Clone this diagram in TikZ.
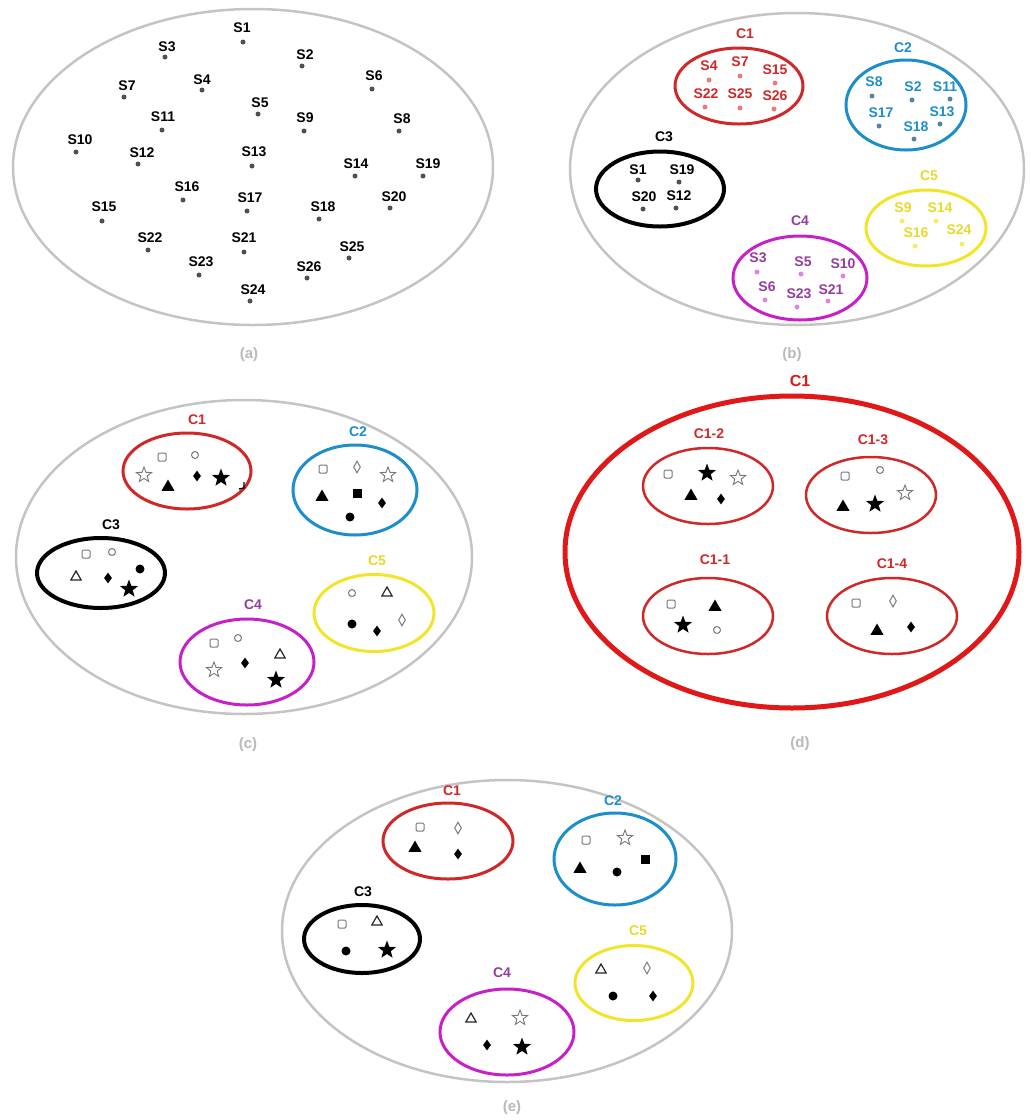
\documentclass[tikz,border=0pt]{standalone}
\usepackage{fontspec}
\setmainfont{Liberation Sans}
\usetikzlibrary{shapes.geometric}
\definecolor{cgray}{RGB}{196,196,196}
\definecolor{cred}{RGB}{208,40,40}
\definecolor{cdred}{RGB}{224,24,24}
\definecolor{cblue}{RGB}{28,142,202}
\definecolor{cmag}{RGB}{200,32,200}
\definecolor{cmagt}{RGB}{150,60,160}
\definecolor{cyel}{RGB}{242,228,40}
\definecolor{cyelt}{RGB}{232,216,40}
\definecolor{cdot}{RGB}{80,80,80}
\definecolor{ccap}{RGB}{185,185,185}
\definecolor{csym}{RGB}{120,120,120}
\begin{document}
\begin{tikzpicture}[x=1pt,y=-1pt,
  lab/.style={font=\fontsize{14}{16}\selectfont\bfseries, inner sep=0, anchor=center},
  biglab/.style={font=\fontsize{16}{18}\selectfont\bfseries, inner sep=0, anchor=center},
  capt/.style={font=\fontsize{15}{17}\selectfont\bfseries, text=ccap, inner sep=0},
  dot/.style={circle, fill=cdot, inner sep=0, minimum size=5pt},
  outer/.style={ellipse, draw=cgray, line width=2.5pt, inner sep=0},
  clus/.style={ellipse, line width=3pt, inner sep=0},
  osq/.style={rectangle, draw=csym, rounded corners=1.2pt, line width=1pt, inner sep=0, minimum size=8pt},
  fsq/.style={rectangle, fill=black, inner sep=0, minimum size=9pt},
  ocirc/.style={circle, draw=csym, line width=1pt, inner sep=0, minimum size=7pt},
  fcirc/.style={circle, fill=black, inner sep=0, minimum size=9pt},
  ostar/.style={star, star points=5, star point ratio=2.4, draw=csym, line width=0.9pt, inner sep=0, minimum size=16pt},
  fstar/.style={star, star points=5, star point ratio=2.4, fill=black, inner sep=0, minimum size=19pt},
  ftri/.style={regular polygon, regular polygon sides=3, fill=black, inner sep=0, minimum size=15pt},
  otri/.style={regular polygon, regular polygon sides=3, draw=black!85, line width=1.2pt, inner sep=0, minimum size=12pt},
  fdia/.style={diamond, fill=black, inner sep=0, minimum width=8pt, minimum height=11pt},
  odia/.style={diamond, draw=csym, line width=1pt, inner sep=0, minimum width=7pt, minimum height=12pt}
]
\useasboundingbox (0,0) rectangle (1031,1120);

% ---------------- (a)
\node[outer, minimum width=480pt, minimum height=316pt] (A) at (253,167) {};
\foreach \n/\lx/\ly/\dx/\dy in {1/242/28/243/42, 2/305/55/302/66, 3/167/47/165/57, 4/202/80/202/90,
  5/260/103/258/114, 6/374/76/372/89, 7/127/86/124/97, 8/402/119/399/131, 9/305/118/304/131,
  10/80/140/76/152, 11/163/117/162/130, 12/142/153/138/164, 13/254/152/252/166, 14/356/164/355/176,
  15/104/207/102/221, 16/187/187/183/200, 17/250/198/247/211, 18/323/207/319/219, 19/428/164/423/176,
  20/394/197/390/208, 21/244/238/244/252, 22/150/238/148/250, 23/201/262/199/275, 24/253/290/250/301,
  25/352/247/349/258, 26/309/267/307/278}
{ \node[lab] (aL\n) at (\lx,\ly) {S\n}; \node[dot] (aD\n) at (\dx,\dy) {}; }
\node[capt] (capa) at (249,355) {(a)};

% ---------------- (b)
\node[outer, minimum width=454pt, minimum height=312pt] (B) at (797,169) {};
\node[clus, draw=cred, minimum width=128pt, minimum height=76pt] (bC1) at (739,86) {};
\node[lab, text=cred] (bC1l) at (745,34) {C1};
\foreach \n/\lx/\ly/\dx/\dy in {4/709/66/709/80, 7/740/62/740/76, 15/775/70/775/83, 22/706/94/705/107, 25/740/94/740/108, 26/775/96/774/109}
{ \node[lab, text=cred] (bL\n) at (\lx,\ly) {S\n}; \node[dot, fill=cred!60] (bD\n) at (\dx,\dy) {}; }
\node[clus, draw=cblue, minimum width=120pt, minimum height=90pt] (bC2) at (906,105) {};
\node[lab, text=cblue] (bC2l) at (903,48) {C2};
\foreach \n/\lx/\ly/\dx/\dy in {8/874/82/872/96, 2/913/87/912/100, 11/945/87/950/99, 17/881/113/879/126, 13/942/112/940/124, 18/916/127/914/139}
{ \node[lab, text=cblue] (bL\n) at (\lx,\ly) {S\n}; \node[dot, fill=cblue!40!gray] (bD\n) at (\dx,\dy) {}; }
\node[clus, draw=black, line width=4pt, minimum width=128pt, minimum height=75pt] (bC3) at (660,189) {};
\node[lab] (bC3l) at (664,137) {C3};
\foreach \n/\lx/\ly/\dx/\dy in {1/638/170/638/180, 19/682/170/679/182, 20/644/197/643/209, 12/679/196/676/208}
{ \node[lab] (bL\n) at (\lx,\ly) {S\n}; \node[dot] (bD\n) at (\dx,\dy) {}; }
\node[clus, draw=cmag, minimum width=134pt, minimum height=84pt] (bC4) at (800,278) {};
\node[lab, text=cmagt] (bC4l) at (800,221) {C4};
\foreach \n/\lx/\ly/\dx/\dy in {3/758/258/757/272, 5/803/262/801/274, 10/843/264/843/276, 6/767/287/765/300, 23/799/294/797/307, 21/831/290/828/301}
{ \node[lab, text=cmagt] (bL\n) at (\lx,\ly) {S\n}; \node[dot, fill=cmag!55] (bD\n) at (\dx,\dy) {}; }
\node[clus, draw=cyel, minimum width=120pt, minimum height=76pt] (bC5) at (926,228) {};
\node[lab, text=cyelt] (bC5l) at (929,176) {C5};
\foreach \n/\lx/\ly/\dx/\dy in {9/903/208/902/221, 14/940/208/936/221, 16/916/233/915/246, 24/959/230/962/244}
{ \node[lab, text=cyelt] (bL\n) at (\lx,\ly) {S\n}; \node[dot, fill=cyel!70] (bD\n) at (\dx,\dy) {}; }
\node[capt] (capb) at (792,355) {(b)};

% ---------------- (c)
\node[outer, minimum width=456pt, minimum height=314pt] (C) at (244,557) {};
\node[clus, draw=cred, minimum width=128pt, minimum height=76pt] (cC1) at (187,471) {};
\node[lab, text=cred] (cC1l) at (197,420) {C1};
\node[ostar] (c1a) at (144,475) {};
\node[osq] (c1b) at (162,457) {};
\node[ocirc] (c1c) at (195,455) {};
\node[ftri] (c1d) at (168,487) {};
\node[fdia] (c1e) at (197,476) {};
\node[fstar] (c1f) at (221,478) {};
\draw[line width=1.3pt] (244,482) -- (244,488) -- (239,489);
\node[clus, draw=black, line width=4pt, minimum width=128pt, minimum height=70pt] (cC3) at (101,573) {};
\node[lab] (cC3l) at (111,525) {C3};
\node[osq] (c3a) at (86,554) {};
\node[ocirc] (c3b) at (112,552) {};
\node[otri] (c3c) at (76,577) {};
\node[fdia] (c3d) at (108,578) {};
\node[fcirc] (c3e) at (140,569) {};
\node[fstar] (c3f) at (129,589) {};
\node[clus, draw=cmag, minimum width=134pt, minimum height=86pt] (cC4) at (247,662) {};
\node[lab, text=cmagt] (cC4l) at (253,605) {C4};
\node[osq] (c4a) at (214,643) {};
\node[ocirc] (c4b) at (238,638) {};
\node[ostar] (c4c) at (214,670) {};
\node[fdia] (c4d) at (245,663) {};
\node[otri] (c4e) at (280,655) {};
\node[fstar] (c4f) at (276,680) {};
\node[clus, draw=cblue, minimum width=124pt, minimum height=90pt] (cC2) at (355,490) {};
\node[lab, text=cblue] (cC2l) at (358,432) {C2};
\node[osq] (c2a) at (323,469) {};
\node[odia] (c2b) at (357,467) {};
\node[ostar] (c2c) at (388,475) {};
\node[ftri] (c2d) at (322,497) {};
\node[fsq] (c2e) at (357,493) {};
\node[fdia] (c2f) at (382,503) {};
\node[fcirc] (c2g) at (350,517) {};
\node[clus, draw=cyel, minimum width=120pt, minimum height=77pt] (cC5) at (374,613) {};
\node[lab, text=cyelt] (cC5l) at (377,561) {C5};
\node[ocirc] (c5a) at (352,593) {};
\node[otri] (c5b) at (387,593) {};
\node[fcirc] (c5c) at (352,624) {};
\node[fdia] (c5d) at (377,631) {};
\node[odia] (c5e) at (402,620) {};
\node[capt] (capc) at (248,745) {(c)};

% ---------------- (d)
\node[ellipse, draw=cdred, line width=5pt, inner sep=0, minimum width=454pt, minimum height=312pt] (D) at (792,552) {};
\node[biglab, text=cdred] (Dl) at (800,381) {C1};
\node[clus, draw=cred, line width=2.5pt, minimum width=130pt, minimum height=76pt] (d2) at (708,486) {};
\node[lab, text=cred] (d2l) at (709,434) {C1-2};
\node[osq] (d2a) at (668,474) {};
\node[fstar] (d2b) at (707,473) {};
\node[ostar] (d2c) at (738,478) {};
\node[ftri] (d2d) at (691,496) {};
\node[fdia] (d2e) at (721,499) {};
\node[clus, draw=cred, line width=2.5pt, minimum width=130pt, minimum height=76pt] (d1) at (708,616) {};
\node[lab, text=cred] (d1l) at (715,560) {C1-1};
\node[osq] (d1a) at (671,604) {};
\node[ftri] (d1b) at (715,607) {};
\node[fstar] (d1c) at (683,625) {};
\node[ocirc] (d1d) at (717,630) {};
\node[clus, draw=cred, line width=2.5pt, minimum width=130pt, minimum height=76pt] (d3) at (871,495) {};
\node[lab, text=cred] (d3l) at (873,440) {C1-3};
\node[osq] (d3a) at (845,476) {};
\node[ocirc] (d3b) at (880,470) {};
\node[ostar] (d3c) at (905,493) {};
\node[ftri] (d3d) at (843,507) {};
\node[fstar] (d3e) at (875,504) {};
\node[clus, draw=cred, line width=2.5pt, minimum width=130pt, minimum height=76pt] (d4) at (892,616) {};
\node[lab, text=cred] (d4l) at (892,564) {C1-4};
\node[osq] (d4a) at (856,603) {};
\node[odia] (d4b) at (893,601) {};
\node[ftri] (d4c) at (877,631) {};
\node[fdia] (d4d) at (911,627) {};
\node[capt] (capd) at (800,744) {(d)};

% ---------------- (e)
\node[outer, minimum width=450pt, minimum height=302pt] (E) at (507,931) {};
\node[clus, draw=cred, minimum width=130pt, minimum height=76pt] (eC1) at (448,841) {};
\node[lab, text=cred] (eC1l) at (452,791) {C1};
\node[osq] (e1a) at (420,827) {};
\node[odia] (e1b) at (458,828) {};
\node[ftri] (e1c) at (415,848) {};
\node[fdia] (e1d) at (458,854) {};
\node[clus, draw=black, line width=4pt, minimum width=116pt, minimum height=68pt] (eC3) at (362,939) {};
\node[lab] (eC3l) at (363,892) {C3};
\node[osq] (e3a) at (342,924) {};
\node[otri] (e3b) at (377,922) {};
\node[fcirc] (e3c) at (346,951) {};
\node[fstar] (e3d) at (387,950) {};
\node[clus, draw=cmag, minimum width=134pt, minimum height=86pt] (eC4) at (507,1032) {};
\node[lab, text=cmagt] (eC4l) at (502,973) {C4};
\node[otri] (e4a) at (471,1019) {};
\node[ostar] (e4b) at (520,1018) {};
\node[fdia] (e4c) at (487,1045) {};
\node[fstar] (e4d) at (522,1047) {};
\node[clus, draw=cblue, minimum width=122pt, minimum height=92pt] (eC2) at (615,859) {};
\node[lab, text=cblue] (eC2l) at (613,801) {C2};
\node[osq] (e2a) at (586,840) {};
\node[ostar] (e2b) at (625,838) {};
\node[fsq] (e2c) at (645,859) {};
\node[ftri] (e2d) at (580,869) {};
\node[fcirc] (e2e) at (617,872) {};
\node[clus, draw=cyel, minimum width=118pt, minimum height=75pt] (eC5) at (634,983) {};
\node[lab, text=cyelt] (eC5l) at (638,931) {C5};
\node[otri] (e5a) at (601,970) {};
\node[odia] (e5b) at (647,968) {};
\node[fcirc] (e5c) at (613,996) {};
\node[fdia] (e5d) at (653,996) {};
\node[capt] (cape) at (512,1108) {(e)};
\end{tikzpicture}
\end{document}
